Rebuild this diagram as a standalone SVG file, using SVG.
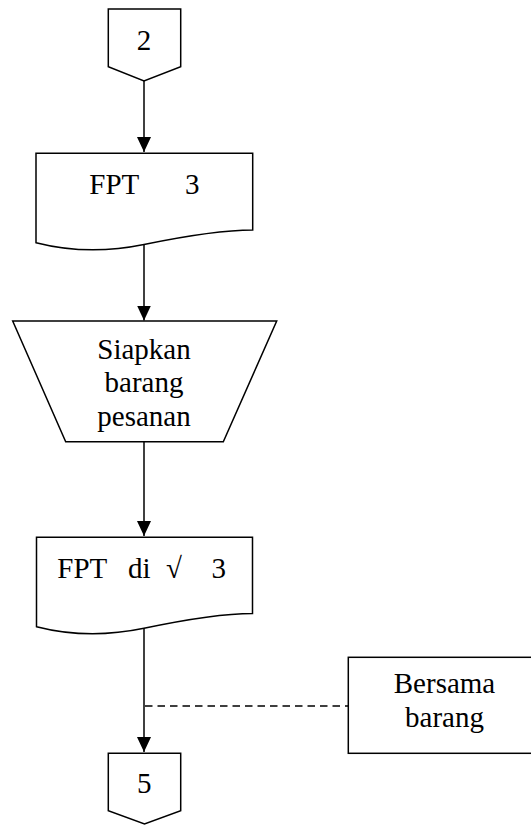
<svg xmlns="http://www.w3.org/2000/svg" width="531" height="825" viewBox="0 0 531 825">
<style>
.s{fill:#fff;stroke:#000;stroke-width:1.5;stroke-linejoin:miter}
.t{font-family:"Liberation Serif","Times New Roman",serif;font-size:29px;fill:#000}
.c{text-anchor:middle}
.l{fill:none;stroke:#000;stroke-width:1.5}
.d{fill:none;stroke:#000;stroke-width:1.5;stroke-dasharray:7.5 5}
</style>
<defs>
<marker id="ah" markerUnits="userSpaceOnUse" markerWidth="16" markerHeight="16" viewBox="0 0 16 16" refX="15" refY="8" orient="auto">
<path d="M0,1 L15,8 L0,15 Z" fill="#000"/>
</marker>
</defs>
<rect width="531" height="825" fill="#fff"/>
<g id="connectors">
<line class="l" x1="144" y1="81" x2="144" y2="152" marker-end="url(#ah)"/>
<line class="l" x1="144" y1="245" x2="144" y2="320.5" marker-end="url(#ah)"/>
<line class="l" x1="144" y1="442" x2="144" y2="536" marker-end="url(#ah)"/>
<line class="l" x1="144" y1="628" x2="144" y2="752" marker-end="url(#ah)"/>
<line class="d" x1="145" y1="706" x2="348" y2="706"/>
</g>
<g id="n-c2">
<path class="s" d="M108.3,9 H180.7 V66.7 L144,81 L108.3,66.7 Z"/>
<text class="t c" x="144" y="50">2</text>
</g>
<g id="n-fpt1">
<path class="s" d="M36,153.3 H252.7 V230 C230,230 200,233 144,244.5 Q88,256 36,242.7 Z"/>
<text class="t" xml:space="preserve" y="194"><tspan x="89.3">FPT     </tspan><tspan x="185">3</tspan></text>
</g>
<g id="n-siapkan">
<path class="s" d="M12.7,321 H276.7 L223.3,441.7 H65.7 Z"/>
<text class="t c" x="144" y="359">Siapkan</text>
<text class="t c" x="144" y="392">barang</text>
<text class="t c" x="144" y="426">pesanan</text>
</g>
<g id="n-fpt2">
<path class="s" d="M36.5,537.3 H252.5 V613.5 C230,613.5 200,616.5 144,628.3 Q88,640 36.5,626.7 Z"/>
<text class="t" xml:space="preserve" y="577.7"><tspan x="57.3">FPT  </tspan><tspan x="128">di </tspan><tspan x="166">√   </tspan><tspan x="211.5">3</tspan></text>
</g>
<g id="n-c5">
<path class="s" d="M108.3,753.3 H180.7 V810.7 L144.5,824 L108.3,810.7 Z"/>
<text class="t c" x="144.3" y="793">5</text>
</g>
<g id="n-bersama">
<rect class="s" x="348.3" y="657.3" width="190" height="96"/>
<text class="t c" x="444.5" y="693.3">Bersama</text>
<text class="t c" x="444.5" y="727.3">barang</text>
</g>
</svg>
